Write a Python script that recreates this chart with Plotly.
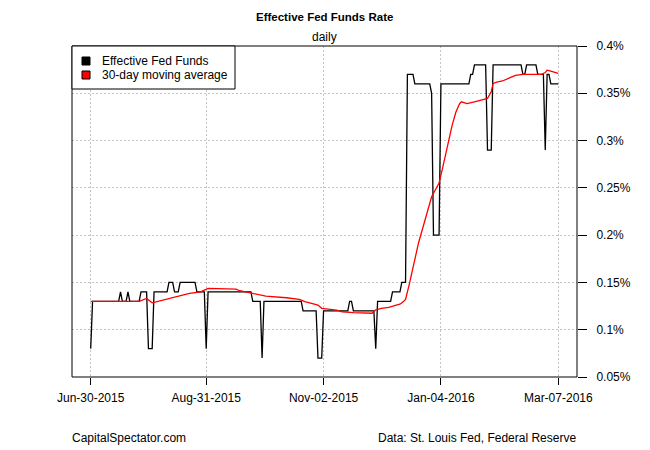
import pandas as pd
import plotly.graph_objects as go

# ---------------- data ----------------
eff_dates = [
    "2015-06-30", "2015-07-01", "2015-07-15", "2015-07-16", "2015-07-17", "2015-07-19",
    "2015-07-20", "2015-07-21", "2015-07-26", "2015-07-27", "2015-07-30", "2015-07-31",
    "2015-08-02", "2015-08-03", "2015-08-10", "2015-08-11", "2015-08-13", "2015-08-14",
    "2015-08-16", "2015-08-17", "2015-08-25", "2015-08-26", "2015-08-30", "2015-08-31",
    "2015-09-01", "2015-09-24", "2015-09-25", "2015-09-29", "2015-09-30", "2015-10-01",
    "2015-10-21", "2015-10-22", "2015-10-29", "2015-10-30", "2015-11-01", "2015-11-02",
    "2015-11-15", "2015-11-16", "2015-11-17", "2015-11-18", "2015-11-29", "2015-11-30",
    "2015-12-01", "2015-12-08", "2015-12-09", "2015-12-13", "2015-12-14", "2015-12-16",
    "2015-12-17", "2015-12-20", "2015-12-21", "2015-12-29", "2015-12-30", "2015-12-31",
    "2016-01-03", "2016-01-04", "2016-01-19", "2016-01-20", "2016-01-21", "2016-01-22",
    "2016-01-28", "2016-01-29", "2016-01-31", "2016-02-01", "2016-02-16", "2016-02-17",
    "2016-02-18", "2016-02-19", "2016-02-24", "2016-02-25", "2016-02-28", "2016-02-29",
    "2016-03-01", "2016-03-02", "2016-03-03", "2016-03-07",
]
eff_values = [
    0.08, 0.13, 0.13, 0.14, 0.13, 0.13,
    0.14, 0.13, 0.13, 0.14, 0.14, 0.08,
    0.08, 0.14, 0.14, 0.15, 0.15, 0.14,
    0.14, 0.15, 0.15, 0.14, 0.14, 0.08,
    0.14, 0.14, 0.13, 0.13, 0.07, 0.13,
    0.13, 0.12, 0.12, 0.07, 0.07, 0.12,
    0.12, 0.13, 0.13, 0.12, 0.12, 0.08,
    0.13, 0.13, 0.14, 0.14, 0.15, 0.15,
    0.37, 0.37, 0.36, 0.36, 0.35, 0.20,
    0.20, 0.36, 0.36, 0.37, 0.37, 0.38,
    0.38, 0.29, 0.29, 0.38, 0.38, 0.37,
    0.37, 0.38, 0.38, 0.37, 0.37, 0.29,
    0.37, 0.37, 0.36, 0.36,
]

ma_dates = [
    "2015-06-30", "2015-07-26", "2015-07-30", "2015-08-02", "2015-08-22", "2015-08-28",
    "2015-09-01", "2015-09-16", "2015-09-18", "2015-09-25", "2015-10-02", "2015-10-13",
    "2015-10-20", "2015-10-23", "2015-10-27", "2015-10-30", "2015-11-01", "2015-11-09",
    "2015-11-12", "2015-11-18", "2015-11-28", "2015-11-30", "2015-12-03", "2015-12-07",
    "2015-12-11", "2015-12-13", "2015-12-15", "2015-12-16", "2015-12-18", "2015-12-23",
    "2015-12-30", "2015-12-31", "2016-01-01", "2016-01-03", "2016-01-05", "2016-01-08",
    "2016-01-10", "2016-01-12", "2016-01-14", "2016-01-15", "2016-01-18", "2016-01-22",
    "2016-01-24", "2016-01-27", "2016-01-29", "2016-01-30", "2016-01-31", "2016-02-01",
    "2016-02-03", "2016-02-06", "2016-02-10", "2016-02-13", "2016-02-17", "2016-02-27",
    "2016-02-29", "2016-03-01", "2016-03-02", "2016-03-04", "2016-03-07",
]
ma_values = [
    0.1300, 0.1300, 0.1330, 0.1285, 0.1385, 0.1400,
    0.1437, 0.1430, 0.1412, 0.1385, 0.1356, 0.1338,
    0.1321, 0.1296, 0.1279, 0.1260, 0.1226, 0.1208,
    0.1190, 0.1180, 0.1174, 0.1210, 0.1226, 0.1237,
    0.1260, 0.1270, 0.1300, 0.1320, 0.1480, 0.1920,
    0.2406, 0.2440, 0.2480, 0.2550, 0.2720, 0.3000,
    0.3160, 0.3300, 0.3390, 0.3410, 0.3390, 0.3410,
    0.3420, 0.3435, 0.3446, 0.3480, 0.3516, 0.3604,
    0.3618, 0.3630, 0.3664, 0.3690, 0.3700, 0.3700,
    0.3720, 0.3745, 0.3740, 0.3730, 0.3710,
]

x_tick_dates = ["2015-06-30", "2015-08-31", "2015-11-02", "2016-01-04", "2016-03-07"]
x_tick_labels = ["Jun-30-2015", "Aug-31-2015", "Nov-02-2015", "Jan-04-2016", "Mar-07-2016"]
y_tick_values = [0.05, 0.10, 0.15, 0.20, 0.25, 0.30, 0.35, 0.40]
y_tick_labels = ["0.05%", "0.1%", "0.15%", "0.2%", "0.25%", "0.3%", "0.35%", "0.4%"]

series_names = ["Effective Fed Funds", "30-day moving average"]
title_text = "Effective Fed Funds Rate"
subtitle_text = "daily"
left_note = "CapitalSpectator.com"
right_note = "Data: St. Louis Fed, Federal Reserve"

# ---------------- layout geometry ----------------
# The page body has an 8px margin, so the figure is drawn 8px in from the
# window corner; all pixel positions below are window positions minus 8.
OFF = 8
W, H = 650 - OFF, 450 - OFF
L, R, T, B = 72 - OFF, 577 - OFF, 46 - OFF, 377 - OFF
FONT = "Liberation Sans, Arial, sans-serif"


def px(xp):
    return (xp - OFF - L) / (R - L)


def py(yp):
    return (B - (yp - OFF)) / (B - T)


start = pd.Timestamp(eff_dates[0])
end = pd.Timestamp(eff_dates[-1])
pad = (end - start) * 0.04
x_range = [start - pad, end + pad]

fig = go.Figure()
fig.add_trace(go.Scatter(
    x=pd.to_datetime(eff_dates), y=eff_values, mode="lines",
    name=series_names[0], line=dict(color="black", width=1.3), showlegend=False,
))
fig.add_trace(go.Scatter(
    x=pd.to_datetime(ma_dates), y=ma_values, mode="lines",
    name=series_names[1], line=dict(color="red", width=1.3), showlegend=False,
))

shapes = [
    # plot box
    dict(type="rect", xref="paper", yref="paper", x0=0, x1=1, y0=0, y1=1,
         line=dict(color="black", width=1), fillcolor="rgba(0,0,0,0)", layer="above"),
    # legend box
    dict(type="rect", xref="paper", yref="paper", x0=px(72), x1=px(235), y0=py(89), y1=py(46),
         line=dict(color="black", width=1), fillcolor="white", layer="above"),
    dict(type="rect", xref="paper", yref="paper", x0=px(82), x1=px(90), y0=py(65), y1=py(57),
         line=dict(color="black", width=1), fillcolor="black", layer="above"),
    dict(type="rect", xref="paper", yref="paper", x0=px(82), x1=px(90), y0=py(79), y1=py(71),
         line=dict(color="black", width=1), fillcolor="red", layer="above"),
]

annotations = [
    dict(text="<b>" + title_text + "</b>", xref="paper", yref="paper", x=0.5, y=py(17),
         xanchor="center", yanchor="middle", showarrow=False, font=dict(size=11.5)),
    dict(text=subtitle_text, xref="paper", yref="paper", x=0.5, y=py(37),
         xanchor="center", yanchor="middle", showarrow=False, font=dict(size=12)),
    dict(text=series_names[0], xref="paper", yref="paper", x=px(100), y=py(61),
         xanchor="left", yanchor="middle", showarrow=False, font=dict(size=12)),
    dict(text=series_names[1], xref="paper", yref="paper", x=px(100), y=py(75),
         xanchor="left", yanchor="middle", showarrow=False, font=dict(size=12)),
    dict(text=left_note, xref="paper", yref="paper", x=px(70), y=py(438),
         xanchor="left", yanchor="middle", showarrow=False, font=dict(size=12)),
    dict(text=right_note, xref="paper", yref="paper", x=px(578), y=py(438),
         xanchor="right", yanchor="middle", showarrow=False, font=dict(size=12)),
]

fig.update_layout(
    width=W, height=H,
    margin=dict(l=L, r=W - R, t=T, b=H - B, pad=0),
    paper_bgcolor="white", plot_bgcolor="white",
    font=dict(family=FONT, size=12, color="black"),
    showlegend=False,
    shapes=shapes,
    annotations=annotations,
    xaxis=dict(
        range=x_range, type="date",
        tickvals=pd.to_datetime(x_tick_dates), ticktext=x_tick_labels,
        ticks="outside", ticklen=7, tickwidth=1, tickcolor="black",
        showgrid=True, gridcolor="#C4C4C4", gridwidth=1, griddash="2px,2px",
        showline=False, zeroline=False, ticklabelstandoff=3,
    ),
    yaxis=dict(
        range=[0.05, 0.40], side="right",
        tickvals=y_tick_values, ticktext=y_tick_labels,
        ticks="outside", ticklen=9, tickwidth=1, tickcolor="black",
        showgrid=True, gridcolor="#C4C4C4", gridwidth=1, griddash="2px,2px",
        showline=False, zeroline=False, ticklabelstandoff=7,
    ),
)

fig.write_html("out.html")
